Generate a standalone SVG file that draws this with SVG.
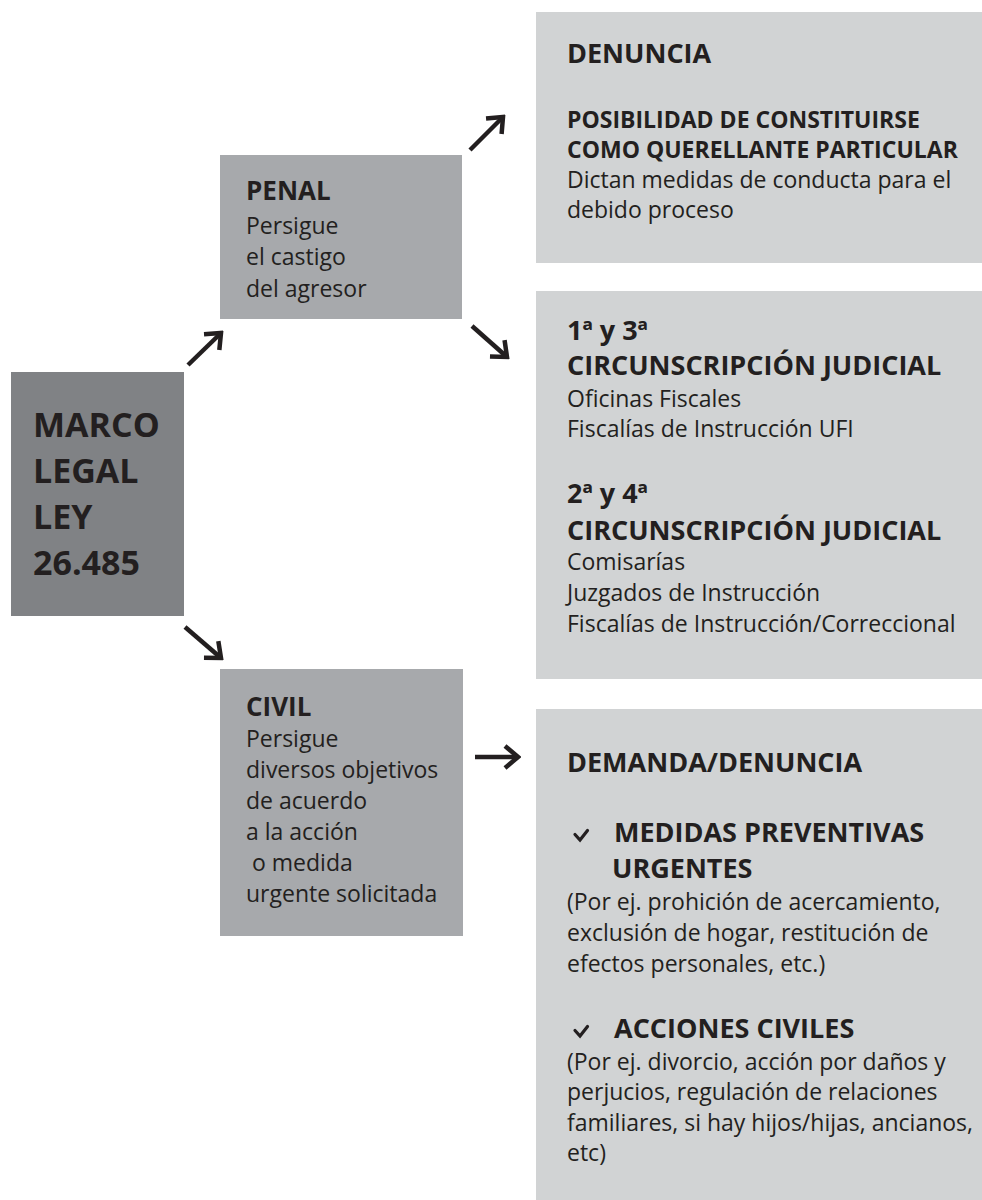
<svg xmlns="http://www.w3.org/2000/svg" width="982" height="1200" viewBox="0 0 982 1200">
<style>
text{font-family:"Open Sans","Noto Sans","Liberation Sans",sans-serif;fill:#231f20}
.big{font-size:34px;font-weight:700}
.h{font-size:26px;font-weight:700}
.h2{font-size:27px;font-weight:700}
.h3{font-size:23px;font-weight:700}
.t{font-size:23px;font-weight:400}
.chk{fill:none;stroke:#231f20;stroke-width:3.2;stroke-linecap:round;stroke-linejoin:miter}
.b1{fill:#808285}
.b2{fill:#a7a9ac}
.b3{fill:#d1d3d4}
.arr{fill:none;stroke:#231f20;stroke-width:4.5;marker-end:url(#ah)}
</style>
<defs>
<marker id="ah" viewBox="-4 -4 20 30" refX="13" refY="11" markerWidth="20" markerHeight="30" markerUnits="userSpaceOnUse" orient="auto">
<path d="M0,0 L13,11 L0,22" fill="none" stroke="#231f20" stroke-width="4.5" stroke-linejoin="miter"/>
</marker>
<path id="check" d="M0,2.5 L5,8 L12.5,-1.5"/>
</defs>
<rect width="982" height="1200" fill="#ffffff"/>
<g id="marco">
<rect class="b1" x="11" y="372" width="173" height="244"/>
<text class="big" x="33" y="437">MARCO</text>
<text class="big" x="33" y="483">LEGAL</text>
<text class="big" x="33" y="529">LEY</text>
<text class="big" x="33" y="575">26.485</text>
</g>
<g id="penal">
<rect class="b2" x="220" y="155" width="242" height="164"/>
<text class="h" x="246" y="200">PENAL</text>
<text class="t" x="246" y="234">Persigue</text>
<text class="t" x="246" y="265">el castigo</text>
<text class="t" x="246" y="297">del agresor</text>
</g>
<g id="civil">
<rect class="b2" x="220" y="669" width="243" height="267"/>
<text class="h" x="246" y="716">CIVIL</text>
<text class="t" x="246" y="747">Persigue</text>
<text class="t" x="246" y="778">diversos objetivos</text>
<text class="t" x="246" y="809">de acuerdo</text>
<text class="t" x="246" y="840">a la acción</text>
<text class="t" x="252" y="871">o medida</text>
<text class="t" x="246" y="902">urgente solicitada</text>
</g>
<g id="denuncia">
<rect class="b3" x="536" y="12" width="446" height="251"/>
<text class="h2" x="567" y="63">DENUNCIA</text>
<text class="h3" x="567" y="128">POSIBILIDAD DE CONSTITUIRSE</text>
<text class="h3" x="567" y="158">COMO QUERELLANTE PARTICULAR</text>
<text class="t" x="567" y="188">Dictan medidas de conducta para el</text>
<text class="t" x="567" y="218">debido proceso</text>
</g>
<g id="circunscripcion">
<rect class="b3" x="536" y="291" width="446" height="388"/>
<text class="h2" x="567" y="340">1ª y 3ª</text>
<text class="h2" x="567" y="375">CIRCUNSCRIPCIÓN JUDICIAL</text>
<text class="t" x="567" y="407">Oficinas Fiscales</text>
<text class="t" x="567" y="437">Fiscalías de Instrucción UFI</text>
<text class="h2" x="567" y="503">2ª y 4ª</text>
<text class="h2" x="567" y="540">CIRCUNSCRIPCIÓN JUDICIAL</text>
<text class="t" x="567" y="570">Comisarías</text>
<text class="t" x="567" y="601">Juzgados de Instrucción</text>
<text class="t" x="567" y="632">Fiscalías de Instrucción/Correccional</text>
</g>
<g id="demanda">
<rect class="b3" x="536" y="709" width="446" height="491"/>
<text class="h2" x="567" y="772">DEMANDA/DENUNCIA</text>
<use href="#check" class="chk" x="575" y="832"/>
<text class="h2" x="614" y="842">MEDIDAS PREVENTIVAS</text>
<text class="h2" x="612" y="878">URGENTES</text>
<text class="t" x="567" y="910">(Por ej. prohición de acercamiento,</text>
<text class="t" x="567" y="941">exclusión de hogar, restitución de</text>
<text class="t" x="567" y="972">efectos personales, etc.)</text>
<use href="#check" class="chk" x="575" y="1028"/>
<text class="h2" x="614" y="1038">ACCIONES CIVILES</text>
<text class="t" x="567" y="1070">(Por ej. divorcio, acción por daños y</text>
<text class="t" x="567" y="1100">perjucios, regulación de relaciones</text>
<text class="t" x="567" y="1131">familiares, si hay hijos/hijas, ancianos,</text>
<text class="t" x="567" y="1161">etc)</text>
</g>
<g id="connectors">
<path class="arr" d="M188,365 L221,333"/>
<path class="arr" d="M470,150 L503,117"/>
<path class="arr" d="M472,326 L507,357"/>
<path class="arr" d="M185,627 L221,658"/>
<path class="arr" d="M475,757 L518,757"/>
</g>
</svg>
